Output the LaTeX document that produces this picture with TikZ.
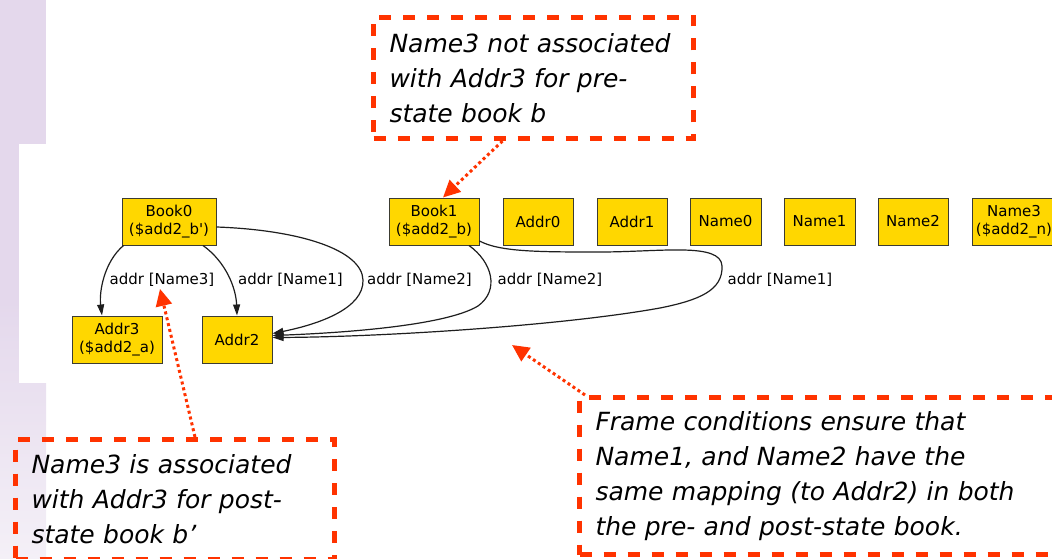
\documentclass[tikz,border=0pt]{standalone}
\usepackage{fontspec}
\newfontfamily\graphfont{DejaVu Sans}
\newfontfamily\notefont{DejaVu Sans}
\usetikzlibrary{arrows.meta}
\definecolor{lav}{RGB}{228,216,236}
\definecolor{lavlight}{RGB}{244,240,247}
\definecolor{gold}{RGB}{255,215,0}
\definecolor{noteRed}{RGB}{255,51,0}
\definecolor{edgeGray}{RGB}{30,30,30}
\definecolor{boxLine}{RGB}{60,60,50}
\begin{document}
\begin{tikzpicture}[x=1pt,y=-1pt,
  atom/.style={draw=boxLine, line width=1pt, fill=gold, minimum height=47pt,
    inner sep=0pt, align=center, font=\graphfont\fontsize{15}{18}\selectfont},
  rel/.style={draw=edgeGray, line width=1.2pt, -{Triangle[length=11pt,width=7pt]}},
  rellabel/.style={inner sep=2pt, font=\graphfont\fontsize{15}{18}\selectfont},
  note/.style={draw=noteRed, line width=5pt, dash pattern=on 12pt off 12pt,
    align=left, inner xsep=16pt, inner ysep=0pt, anchor=north west,
    font=\notefont\itshape\fontsize{25}{35}\selectfont},
  pointer/.style={draw=noteRed, line width=3pt, dash pattern=on 3pt off 3pt,
    -{Triangle[length=17pt,width=16pt]}}
]
\useasboundingbox (0,0) rectangle (1052,559);
\clip (0,0) rectangle (1052,559);

% slide background strip and the pasted screenshot area
\fill[lav] (0,0) rectangle (46,300);
\shade[top color=lav, bottom color=lavlight] (0,300) rectangle (46,559);
\fill[white] (19,144) rectangle (1052,383);

% atoms
\node[atom, minimum width=94pt] (Book0) at (169,221.5) {Book0\\(\$add2\_b\textquotesingle)};
\node[atom, minimum width=90pt] (Addr3) at (117,339.5) {Addr3\\(\$add2\_a)};
\node[atom, minimum width=70pt] (Addr2) at (237,339.5) {Addr2};
\node[atom, minimum width=90pt] (Book1) at (434,221.5) {Book1\\(\$add2\_b)};
\node[atom, minimum width=70pt] (Addr0) at (538,221.5) {Addr0};
\node[atom, minimum width=70pt] (Addr1) at (632,221.5) {Addr1};
\node[atom, minimum width=71pt] (Name0) at (725.5,221.5) {Name0};
\node[atom, minimum width=71pt] (Name1) at (819.5,221.5) {Name1};
\node[atom, minimum width=70pt] (Name2) at (913,221.5) {Name2};
\node[atom, minimum width=84pt] (Name3) at (1014,221.5) {Name3\\(\$add2\_n)};

% relation labels
\node[rellabel] (l1) at (162,280) {addr [Name3]};
\node[rellabel] (l2) at (290.5,280) {addr [Name1]};
\node[rellabel] (l3) at (419.5,280) {addr [Name2]};
\node[rellabel] (l4) at (550,280) {addr [Name2]};
\node[rellabel] (l5) at (780,280) {addr [Name1]};

% addr relation edges
\draw[rel] ([xshift=2pt]Book0.south west) .. controls (104,262) and (99,292) .. ([xshift=-15pt]Addr3.north);
\draw[rel] ([xshift=34pt]Book0.south) .. controls (226,262) and (236,288) .. (Addr2.north);
\draw[rel] ([yshift=-5.5pt]Book0.east) .. controls (300,230) and (362,250) .. (363,280)
  .. controls (364,308) and (320,324) .. ([yshift=6pt]Addr2.east);
\draw[rel] ([xshift=35pt]Book1.south) .. controls (492,262) and (500,290) .. (478,306)
  .. controls (445,326) and (340,333) .. ([yshift=4pt]Addr2.east);
\draw[rel] ([yshift=-19.5pt]Book1.east) .. controls (500,252) and (540,252) .. (600,252)
  .. controls (660,252) and (721,242) .. (722,266)
  .. controls (723,290) and (700,300) .. (660,308)
  .. controls (560,326) and (380,337) .. ([yshift=2pt]Addr2.east);

% annotations
\node[note, minimum width=320pt, minimum height=121pt, text width=288pt] (noteTop) at (371,15)
  {Name3 not associated\\with Addr3 for pre-\\state book b};
\node[note, minimum width=319pt, minimum height=120pt, text width=287pt] (notePost) at (13,437)
  {Name3 is associated\\with Addr3 for post-\\state book b’};
\node[note, minimum width=520pt, minimum height=157pt, text width=488pt] (noteFrame) at (577,395)
  {Frame conditions ensure that\\Name1, and Name2 have the\\same mapping (to Addr2) in both\\the pre- and post-state book.};
\coordinate (frameTarget) at (512,345);

\draw[pointer] ([xshift=-31pt]noteTop.south) -- ([xshift=9pt]Book1.north);
\draw[pointer] ([xshift=20pt]notePost.north) -- ([xshift=-2pt]l1.south);
\draw[pointer] ([xshift=8pt]noteFrame.north west) -- (frameTarget);
\end{tikzpicture}
\end{document}
